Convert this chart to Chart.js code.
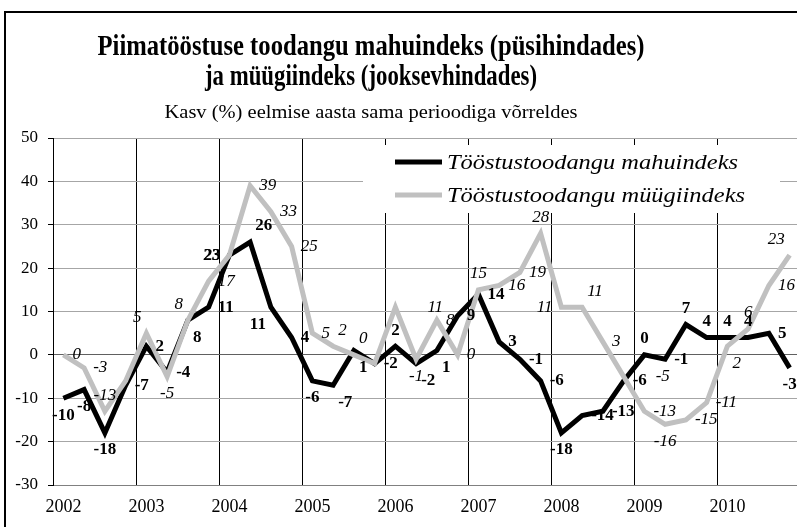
<!DOCTYPE html>
<html><head><meta charset="utf-8">
<script src="https://cdn.jsdelivr.net/npm/chart.js@4/dist/chart.umd.min.js"></script>
<style>
html,body{margin:0;padding:0;background:#fff;overflow:hidden;width:797px;height:527px;}
#wrap{position:absolute;left:0;top:0;width:812px;height:527px;}
canvas{display:block;}
</style></head><body>
<div id="wrap"><canvas id="c" width="812" height="527"></canvas></div>
<script>
const years = [2002, 2003, 2004, 2005, 2006, 2007, 2008, 2009, 2010];
const quarters = ['I', 'II', 'III', 'IV'];
const categories = years.flatMap(y => quarters.map(q => y + ' ' + q));
const volumeIndex = [-10, -8, -18, -7, 2, -4, 8, 11, 23, 26, 11, 4,
                     -6, -7, 1, -2, 2, -2, 1, 9, 14, 3, -1, -6,
                     -18, -14, -13, -6, 0, -1, 7, 4, 4, 4, 5, -3];
const salesIndex  = [0, -3, -13, -6, 5, -5, 8, 17, 23, 39, 33, 25,
                     5, 2, 0, -2, 11, -1, 8, 0, 15, 16, 19, 28,
                     11, 11, 3, -5, -13, -16, -15, -11, 2, 6, 16, 23];
const yTicks = [-30, -20, -10, 0, 10, 20, 30, 40, 50];
const titleLines = ['Piimatööstuse toodangu mahuindeks (püsihindades)', 'ja müügiindeks (jooksevhindades)'];
const subtitle = 'Kasv (%) eelmise aasta sama perioodiga võrreldes';
const seriesNames = ['Tööstustoodangu mahuindeks', 'Tööstustoodangu müügiindeks'];
// label anchor codes (a=above, b=below, l=left, r=right, R=far right, ''=none)
const volumeLabelPos = ['b','b','b','r','r','r','br','r','l','ar','bl','r',
                        'b','br','br','r','a','br','br','r','r','r','r','r',
                        'b','r','r','r','a','r','a','a','a','a','r','b'];
const salesLabelPos  = ['r','r','a','','al','b','al','r','l','r','r','r',
                        'r','ar','ar','','R','b','r','r','a','r','r','a',
                        'l','ar','r','R','r','b','r','r','br','a','r','al'];

const SERIF = '"Liberation Serif", "Times New Roman", serif';

function fitText(ctx, text, cx, y, target, font, align) {
  ctx.save();
  ctx.font = font;
  const w = ctx.measureText(text).width;
  ctx.translate(cx, y);
  ctx.scale(target / w, 1);
  ctx.textAlign = align || 'center';
  ctx.textBaseline = 'alphabetic';
  ctx.fillStyle = '#000';
  ctx.fillText(text, 0, 0);
  ctx.restore();
}

const decor = {
  id: 'decor',
  beforeDraw(chart) {
    const ctx = chart.ctx;
    ctx.save();
    ctx.fillStyle = '#fff';
    ctx.fillRect(0, 0, chart.width, chart.height);
    ctx.restore();
  },
  beforeDatasetsDraw(chart) {
    const ctx = chart.ctx;
    ctx.save();
    ctx.fillStyle = '#fff';
    ctx.fillRect(363, 145, 417, 68);
    const cols = ['#000', '#c0c0c0'];
    const ys = [162, 195];
    const widths = [291, 298];
    for (let i = 0; i < 2; i++) {
      ctx.strokeStyle = cols[i];
      ctx.lineWidth = 5;
      ctx.beginPath();
      ctx.moveTo(395, ys[i]);
      ctx.lineTo(442, ys[i]);
      ctx.stroke();
      fitText(ctx, seriesNames[i], 447, ys[i] + 7, widths[i], 'italic 21px ' + SERIF, 'left');
    }
    ctx.restore();
  },
  afterDatasetsDraw(chart) {
    const ctx = chart.ctx;
    const sets = [
      { meta: chart.getDatasetMeta(0), vals: volumeIndex, pos: volumeLabelPos, font: 'bold 17px ' + SERIF },
      { meta: chart.getDatasetMeta(1), vals: salesIndex, pos: salesLabelPos, font: 'italic 17px ' + SERIF }
    ];
    ctx.save();
    ctx.fillStyle = '#000';
    ctx.textBaseline = 'middle';
    sets.forEach(s => {
      ctx.font = s.font;
      s.meta.data.forEach((pt, i) => {
        const code = s.pos[i];
        if (!code) return;
        let dx = 0, dy = 0, align = 'center';
        if (code.includes('a')) dy = -16;
        if (code.includes('b')) dy = 17;
        if (code === 'r') { dx = 9; align = 'left'; }
        if (code === 'R') { dx = 32; align = 'left'; }
        if (code === 'l') { dx = -9; align = 'right'; }
        if (code.length === 2 && code[1] === 'r') { dx = 5; align = 'left'; }
        if (code.length === 2 && code[1] === 'l') { dx = -5; align = 'right'; }
        ctx.textAlign = align;
        ctx.fillText(String(s.vals[i]), pt.x + dx, pt.y + dy);
      });
    });
    ctx.restore();
  },
  afterDraw(chart) {
    const ctx = chart.ctx;
    fitText(ctx, titleLines[0], 371, 55, 547, 'bold 30px ' + SERIF);
    fitText(ctx, titleLines[1], 371, 85, 332, 'bold 30px ' + SERIF);
    fitText(ctx, subtitle, 371, 118, 413, '19px ' + SERIF);
    ctx.save();
    ctx.strokeStyle = '#000';
    ctx.lineWidth = 2;
    ctx.strokeRect(5, 12, 810, 530);
    ctx.restore();
  }
};

new Chart(document.getElementById('c'), {
  type: 'line',
  data: {
    labels: categories,
    datasets: [
      { label: seriesNames[0], data: volumeIndex, borderColor: '#000', backgroundColor: '#000',
        borderWidth: 5, pointRadius: 0, tension: 0, order: 1, fill: false },
      { label: seriesNames[1], data: salesIndex, borderColor: '#c0c0c0', backgroundColor: '#c0c0c0',
        borderWidth: 5, pointRadius: 0, tension: 0, order: 0, fill: false }
    ]
  },
  options: {
    responsive: false,
    animation: false,
    devicePixelRatio: 1,
    layout: { padding: { top: 138, right: 12, left: 0, bottom: 0 } },
    plugins: { legend: { display: false }, tooltip: { enabled: false }, title: { display: false } },
    scales: {
      x: {
        type: 'category',
        offset: true,
        grid: {
          offset: true,
          drawTicks: false,
          color: c => (c.index % 4 === 0 && c.index > 0 && c.index < categories.length) ? '#000' : 'rgba(0,0,0,0)',
          lineWidth: 1
        },
        border: { display: true, color: '#808080', width: 1 },
        ticks: {
          autoSkip: false, maxRotation: 0, minRotation: 0, padding: 11,
          color: '#000', font: { family: SERIF, size: 18 },
          callback: (v, i) => (i % 4 === 0 ? String(years[i / 4]) : '')
        },
        afterFit: s => { s.height = 42; }
      },
      y: {
        min: yTicks[0], max: yTicks[yTicks.length - 1],
        afterBuildTicks: s => { s.ticks = yTicks.map(v => ({ value: v })); },
        grid: {
          color: c => (c.tick && c.tick.value === 0) ? '#606060' : '#a6a6a6',
          tickColor: '#000', tickLength: 5, lineWidth: 1
        },
        border: { display: true, color: '#000', width: 1 },
        ticks: { color: '#000', padding: 10, font: { family: SERIF, size: 17 } },
        afterFit: s => { s.width = 53; }
      }
    }
  },
  plugins: [decor]
});
</script>
</body></html>
